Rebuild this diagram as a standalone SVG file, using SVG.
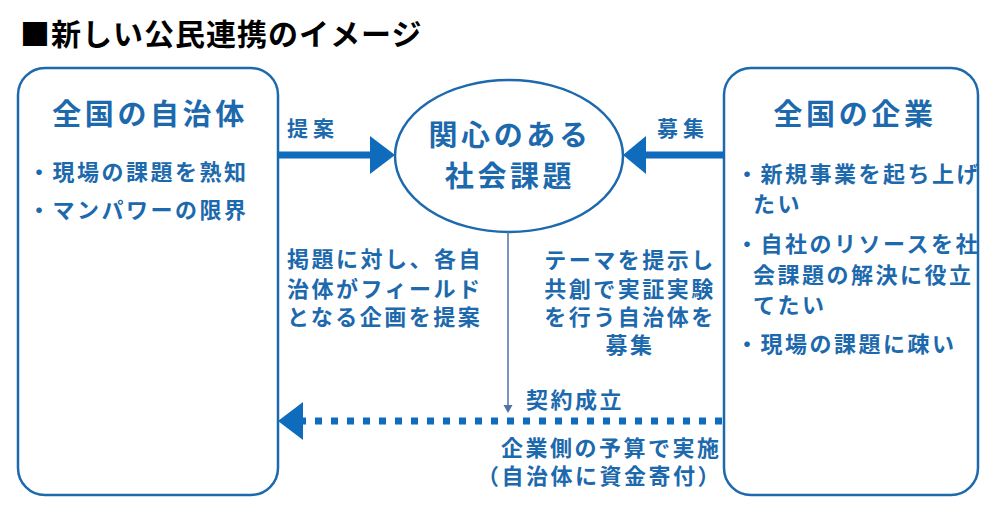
<svg xmlns="http://www.w3.org/2000/svg" width="990" height="510" viewBox="0 0 990 510">
<style>
text{font-family:"Noto Sans CJK JP","Noto Sans CJK SC",sans-serif;font-weight:700;dominant-baseline:central;fill:#1d69ad}
.ttl{fill:#000;font-size:30px;letter-spacing:1px}
.h{font-size:29px;letter-spacing:3.6px;text-anchor:middle}
.b{font-size:22px;letter-spacing:2.5px}
.c{text-anchor:middle}
.lab{font-size:21px;letter-spacing:5px}
.box{fill:#fff;stroke:#1d69ad;stroke-width:2.5}
.arr{fill:#0f6bbb}
</style>
<rect width="990" height="510" fill="#fff"/>
<text class="ttl" x="20" y="32">■新しい公民連携のイメージ</text>

<g id="node-jichitai">
<rect class="box" x="18" y="68" width="260" height="427" rx="27" ry="27"/>
<text class="h" x="150" y="112">全国の自治体</text>
<text class="b" x="28" y="170">・現場の課題を熟知</text>
<text class="b" x="28" y="208">・マンパワーの限界</text>
</g>

<g id="node-kigyo">
<rect class="box" x="724" y="68" width="254" height="427" rx="27" ry="27"/>
<text class="h" x="855" y="112">全国の企業</text>
<text class="b" x="736" y="172">・新規事業を起ち上げ</text>
<text class="b" x="753" y="202">たい</text>
<text class="b" x="736" y="242">・自社のリソースを社</text>
<text class="b" x="753" y="273">会課題の解決に役立</text>
<text class="b" x="753" y="303">てたい</text>
<text class="b" x="736" y="342">・現場の課題に疎い</text>
</g>

<g id="node-kadai">
<ellipse class="box" cx="509" cy="156" rx="114" ry="76"/>
<text class="h" x="510" y="133">関心のある</text>
<text class="h" x="510" y="174">社会課題</text>
</g>

<g id="connectors">
<line x1="278" y1="155" x2="372" y2="155" stroke="#0f6bbb" stroke-width="7"/>
<polygon class="arr" points="370,136 395,155 370,174"/>
<line x1="724" y1="155" x2="643" y2="155" stroke="#0f6bbb" stroke-width="7"/>
<polygon class="arr" points="646,136 623,155 646,174"/>
<line x1="508" y1="232" x2="508" y2="406" stroke="#5470a8" stroke-width="1.5"/>
<polygon points="503.5,405 512.5,405 508,413" fill="#5470a8"/>
<line x1="722" y1="421" x2="302" y2="421" stroke="#0f6bbb" stroke-width="7" stroke-dasharray="7 9"/>
<polygon class="arr" points="278,421 303,402 303,440"/>
</g>

<g id="labels">
<text class="lab" x="287" y="127">提案</text>
<text class="lab" x="657" y="127">募集</text>
<text class="b" x="287" y="257">掲題に対し、各自</text>
<text class="b" x="287" y="287">治体がフィールド</text>
<text class="b" x="287" y="315">となる企画を提案</text>
<text class="b c" x="630" y="258">テーマを提示し</text>
<text class="b c" x="630" y="287">共創で実証実験</text>
<text class="b c" x="630" y="315">を行う自治体を</text>
<text class="b c" x="630" y="343">募集</text>
<text class="b" x="526" y="398">契約成立</text>
<text class="b" x="501" y="446">企業側の予算で実施</text>
<text class="b" x="477" y="474">（自治体に資金寄付）</text>
</g>
</svg>
